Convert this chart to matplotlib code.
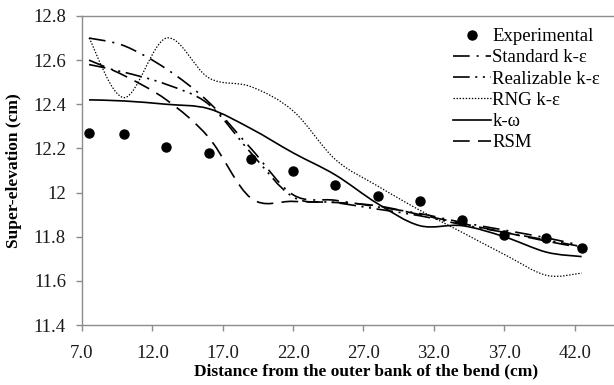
import numpy as np
import matplotlib.pyplot as plt
from matplotlib.path import Path
from matplotlib.patches import PathPatch
from matplotlib.lines import Line2D

plt.rcParams['font.family'] = ['Liberation Serif', 'DejaVu Serif']
plt.rcParams['lines.scale_dashes'] = False

x = [7.5, 10, 13, 16, 19, 22, 25, 28, 31, 34, 37, 40, 42.5]
experimental = [12.27, 12.265, 12.205, 12.18, 12.15, 12.10, 12.035, 11.985, 11.96, 11.877, 11.81, 11.795, 11.748]
standard_ke = [12.70, 12.665, 12.56, 12.41, 12.20, 11.99, 11.965, 11.935, 11.905, 11.865, 11.83, 11.795, 11.76]
realizable_ke = [12.58, 12.545, 12.49, 12.40, 12.18, 11.98, 11.955, 11.925, 11.895, 11.855, 11.82, 11.785, 11.755]
rng_ke = [12.70, 12.43, 12.70, 12.52, 12.48, 12.37, 12.15, 12.03, 11.92, 11.82, 11.72, 11.625, 11.635]
k_omega = [12.42, 12.415, 12.40, 12.38, 12.29, 12.18, 12.08, 11.95, 11.85, 11.85, 11.80, 11.73, 11.71]
rsm = [12.60, 12.53, 12.42, 12.25, 11.975, 11.96, 11.955, 11.94, 11.90, 11.86, 11.82, 11.78, 11.75]

xticks = [7, 12, 17, 22, 27, 32, 37, 42]
yticks = [11.4, 11.6, 11.8, 12.0, 12.2, 12.4, 12.6, 12.8]
ytick_labels = ['11.4', '11.6', '11.8', '12', '12.2', '12.4', '12.6', '12.8']


def smooth_path(xs, ys):
    # Excel-like smoothed line: Catmull-Rom segments as cubic Beziers
    pts = np.column_stack([xs, ys])
    verts = [pts[0]]
    codes = [Path.MOVETO]
    n = len(pts)
    for i in range(n - 1):
        p0 = pts[max(i - 1, 0)]
        p1 = pts[i]
        p2 = pts[i + 1]
        p3 = pts[min(i + 2, n - 1)]
        c1 = p1 + (p2 - p0) / 6
        c2 = p2 - (p3 - p1) / 6
        verts += [c1, c2, p2]
        codes += [Path.CURVE4] * 3
    return Path(verts, codes)


styles = [
    ('Standard k-ε', standard_ke, (0, (12, 5, 1.5, 5))),
    ('Realizable k-ε', realizable_ke, (0, (12, 4, 1.5, 4, 1.5, 4))),
    ('RNG k-ε', rng_ke, (0, (1, 1.2))),
    ('k-ω', k_omega, '-'),
    ('RSM', rsm, (0, (12, 6))),
]

fig = plt.figure(figsize=(6.14, 3.85), dpi=100)
ax = fig.add_axes([82 / 614, 1 - 325 / 385, 1 - 82 / 614, (325 - 16) / 385])

handles = [Line2D([], [], ls='none', marker='o', color='black', ms=6.5)]
labels = ['Experimental']
for name, ys, ls in styles:
    lw = 0.9 if name == 'RNG k-ε' else 1.2
    ax.add_patch(PathPatch(smooth_path(x, ys), fill=False, edgecolor='black',
                           lw=lw, linestyle=ls, capstyle='butt'))
    handles.append(Line2D([], [], color='black', lw=lw, linestyle=ls))
    labels.append(name)

ax.plot(x, experimental, 'o', color='black', ms=6.5, zorder=5)

ax.set_xlim(7, 44.8)
ax.set_ylim(11.4, 12.8)
ax.set_xticks(xticks)
ax.set_xticklabels(['%.1f' % v for v in xticks])
ax.set_yticks(yticks)
ax.set_yticklabels(ytick_labels)

for side in ['left', 'bottom', 'top']:
    ax.spines[side].set_color('#8c8c8c')
    ax.spines[side].set_linewidth(1.0)
ax.spines['right'].set_visible(False)
ax.tick_params(axis='both', colors='#8c8c8c', labelcolor='#1a1a1a', labelsize=13.5, length=4.5, width=1.0)
ax.tick_params(axis='x', pad=10)
ax.tick_params(axis='y', pad=7)

ax.set_xlabel('Distance from the outer bank of the bend (cm)', fontsize=12.5, fontweight='bold')
ax.xaxis.set_label_coords(0.534, -0.125)
ax.set_ylabel('Super-elevation (cm)', fontsize=12.5, fontweight='bold')
ax.yaxis.set_label_coords(-0.112, 0.5)

leg = fig.legend(handles, labels, loc='upper left', bbox_to_anchor=(453 / 614, 1 - 28 / 385),
                 frameon=False, fontsize=13.5, handlelength=2.0, handletextpad=0.1,
                 labelspacing=0.22, borderpad=0, borderaxespad=0)

fig.savefig('out.png', dpi=100)
